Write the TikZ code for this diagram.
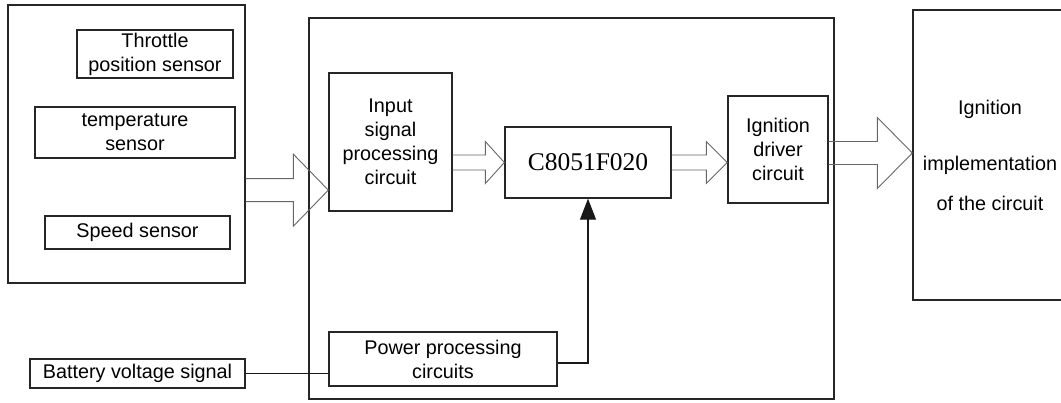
\documentclass[tikz,border=0pt]{standalone}
\usepackage{fontspec}
\newfontfamily\arialf{Liberation Sans}
\newfontfamily\timesf{Liberation Serif}
\usetikzlibrary{calc,arrows.meta}
\tikzset{
  blk/.style={draw=black!85, line width=1.3pt, inner sep=0pt, align=center,
    font=\arialf\fontsize{19.8}{24}\selectfont},
  blockarr/.style={draw=black!60, line width=0.9pt, line join=miter},
  wire/.style={draw=black!90, line width=1.3pt},
}
\newcommand{\hollowarrow}[5]{%
  \draw[blockarr] let \p1=#1, \p2=#2 in
    (\x1,{\y2+#3}) -- ({\x2-#5},{\y2+#3}) -- ({\x2-#5},{\y2+#4}) -- (\x2,\y2)
    -- ({\x2-#5},{\y2-#4}) -- ({\x2-#5},{\y2-#3}) -- (\x1,{\y2-#3});}
\begin{document}
\begin{tikzpicture}[x=1pt,y=-1pt]
\useasboundingbox (0,0) rectangle (1061,402);
% sensors group
\node[blk, minimum width=237pt, minimum height=278pt] (sens) at (126.5,144) {};
\node[blk, minimum width=156pt, minimum height=48pt] (thr) at (155,54) {Throttle\\position sensor};
\node[blk, minimum width=200pt, minimum height=51pt] (temp) at (135,132.5) {temperature\\sensor};
\node[blk, minimum width=185pt, minimum height=33pt] (speed) at (137.5,232.5) {Speed sensor};
\node[blk, minimum width=215pt, minimum height=29pt] (batt) at (137.5,373.5) {Battery voltage signal};
% main controller
\node[blk, minimum width=525pt, minimum height=381pt] (main) at (571.5,208.5) {};
\node[blk, minimum width=123pt, minimum height=138pt] (inp) at (390.5,142) {Input\\signal\\processing\\circuit};
\node[blk, minimum width=166pt, minimum height=71pt, font=\timesf\fontsize{25.5}{30}\selectfont] (mcu) at (588,162.5) {C8051F020};
\node[blk, minimum width=100pt, minimum height=107pt] (drv) at (778,149.5) {Ignition\\driver\\circuit};
\node[blk, minimum width=228pt, minimum height=54pt] (pwr) at (443,359) {Power processing\\circuits};
% output block
\node[blk, minimum width=154pt, minimum height=290pt] (impl) at (990,155) {Ignition\\[32pt]implementation\\[16pt]of the circuit};
% hollow block arrows
\hollowarrow{(sens.east)}{($(inp.south west)+(0,-21.5)$)}{11.5}{36}{35}
\hollowarrow{(inp.east)}{(mcu.west)}{7.5}{21}{19}
\hollowarrow{(mcu.east)}{(drv.west |- mcu.east)}{7.5}{21}{21}
\hollowarrow{(drv.east)}{($(impl.west)+(0,-2)$)}{11.5}{35.5}{35}
% wires
\draw[wire] (batt.east) -- (pwr.west |- batt.east);
\draw[wire, -{Triangle[length=21pt,width=16pt]}] ($(pwr.east)+(0,4)$) -| (mcu.south);
\end{tikzpicture}
\end{document}
